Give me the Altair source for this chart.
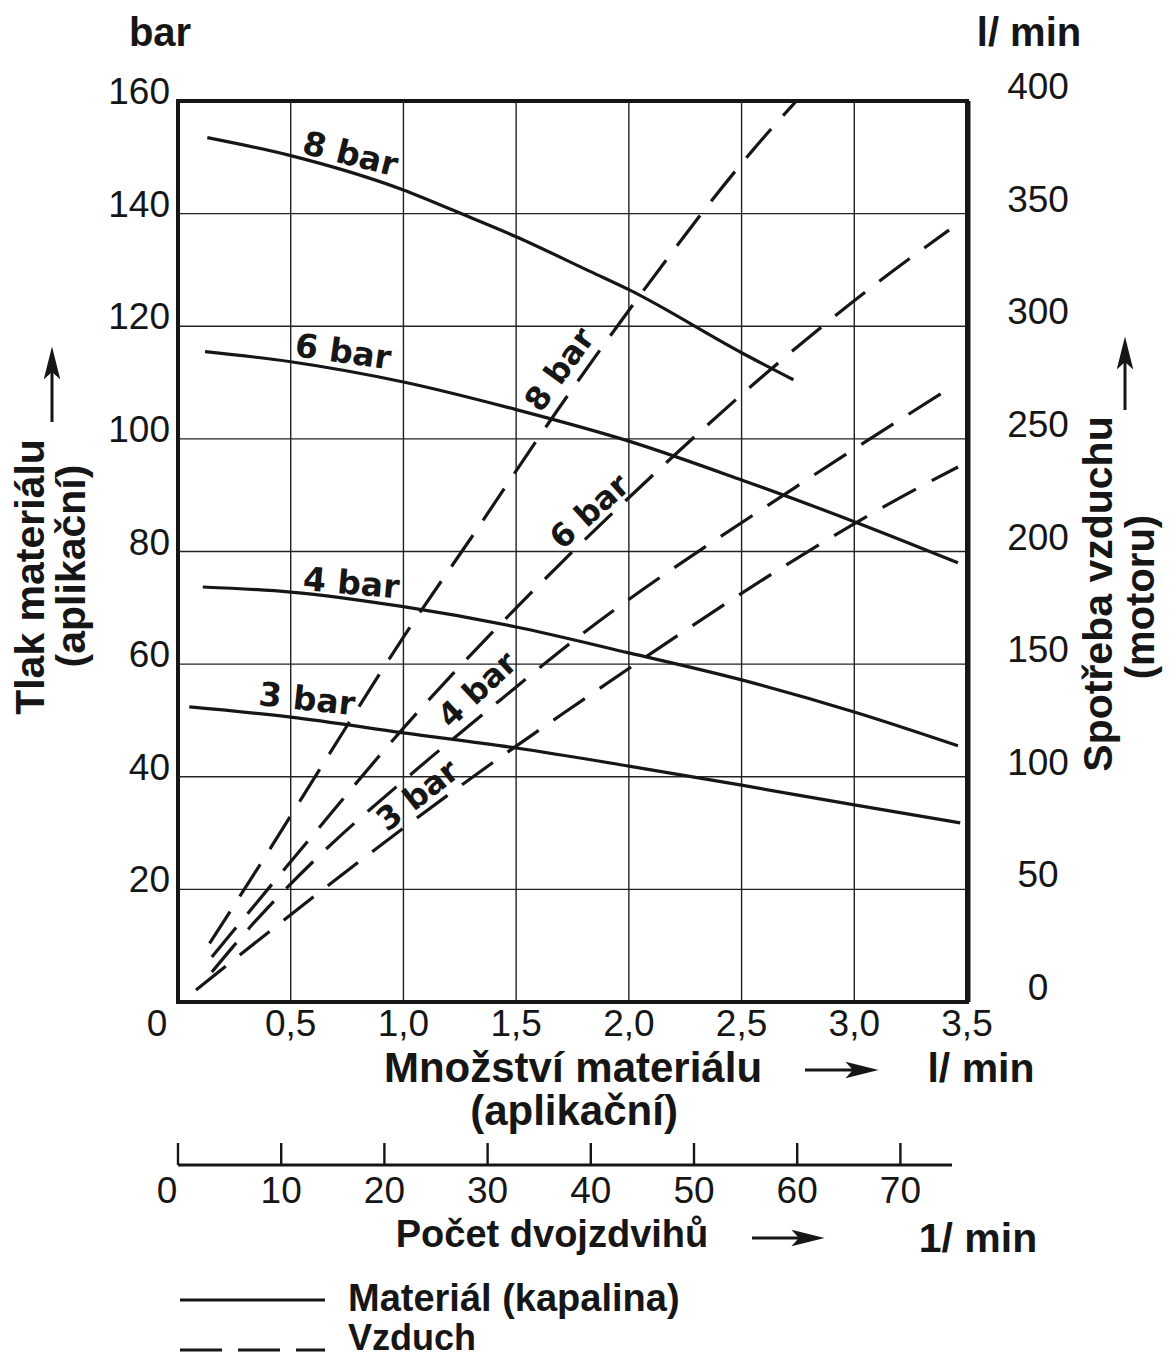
import altair as alt
import pandas as pd

# ---------------- data ----------------
# Material pressure (bar, left axis) vs. material delivery (l/min)
mat_x_8 = [0.13, 0.50, 1.00, 1.25, 1.50, 1.83, 2.00, 2.50, 2.73]
mat_y_8 = [153.5, 150.3, 144.2, 140.1, 135.9, 129.7, 126.5, 115.3, 110.5]
mat_x_6 = [0.12, 0.50, 1.00, 1.50, 2.00, 2.50, 3.00, 3.46]
mat_y_6 = [115.5, 113.7, 110.1, 105.2, 99.6, 92.7, 85.3, 78.0]
mat_x_4 = [0.11, 0.50, 1.00, 1.50, 2.00, 2.50, 3.00, 3.46]
mat_y_4 = [73.7, 72.8, 70.2, 66.6, 62.0, 57.2, 51.5, 45.5]
mat_x_3 = [0.05, 0.50, 1.00, 1.50, 2.00, 2.50, 3.00, 3.47]
mat_y_3 = [52.4, 50.6, 47.8, 45.1, 41.9, 38.5, 35.0, 31.8]

# Air consumption (l/min, right axis) vs. material delivery (l/min)
air_x_8 = [0.14, 0.38, 0.66, 1.00, 1.30, 1.69, 2.06, 2.55, 2.77]
air_y_8 = [26.0, 63.5, 108.3, 162.0, 206.0, 263.7, 315.2, 378.2, 403.0]
air_x_6 = [0.15, 0.61, 0.95, 1.69, 2.14, 2.66, 3.08, 3.42]
air_y_6 = [20.0, 75.5, 115.9, 194.0, 237.0, 283.5, 317.6, 342.7]
air_x_4 = [0.15, 0.32, 0.63, 1.03, 1.43, 1.73, 2.74, 3.40]
air_y_4 = [13.3, 33.3, 65.3, 100.8, 134.1, 158.5, 228.6, 271.0]
air_x_3 = [0.08, 0.64, 1.06, 1.47, 1.70, 3.29, 3.46]
air_y_3 = [5.3, 49.7, 81.7, 111.5, 127.5, 228.6, 237.5]

series_names = ["8 bar", "6 bar", "4 bar", "3 bar"]

# curve labels (anchor in data units, rotation)
mat_lab_x = [0.763, 0.732, 0.768, 0.572]
mat_lab_y = [150.4, 115.3, 74.2, 53.6]
mat_lab_ang = [14, 8, 5, 6]
air_lab_x = [1.695, 1.828, 1.331, 1.065]
air_lab_y = [280.6, 217.5, 138.5, 91.5]
air_lab_ang = [306, 318, 317, 322]

# tick values / labels
x_ticks = [0.5, 1.0, 1.5, 2.0, 2.5, 3.0, 3.5]
x_tick_labels = ["0,5", "1,0", "1,5", "2,0", "2,5", "3,0", "3,5"]
bar_ticks = [20, 40, 60, 80, 100, 120, 140, 160]
air_ticks = [0, 50, 100, 150, 200, 250, 300, 350, 400]
stroke_ticks = [0, 10, 20, 30, 40, 50, 60, 70]
grid_x = [0.5, 1.0, 1.5, 2.0, 2.5, 3.0]
grid_y = [20, 40, 60, 80, 100, 120, 140]

# ---------------- layout ----------------
W, H = 789, 901
INK = "#161616"
NUM_FONT = "Liberation Sans"
TITLE_FONT = "Liberation Sans"
LAB_FONT = "DejaVu Sans"

xs = alt.Scale(domain=[0, 3.5], nice=False, zero=False)
ys_bar = alt.Scale(domain=[0, 160], nice=False, zero=False)
ys_air = alt.Scale(domain=[0, 400], nice=False, zero=False)
ss = alt.Scale(domain=[0, 75], range=[0, 774], nice=False, zero=False)


def frame(xv, yv, name):
    rows = []
    for s, xl, yl in zip(series_names, xv, yv):
        for a, b in zip(xl, yl):
            rows.append({"series": s, "x": a, name: b})
    return pd.DataFrame(rows)


mat_df = frame([mat_x_8, mat_x_6, mat_x_4, mat_x_3],
               [mat_y_8, mat_y_6, mat_y_4, mat_y_3], "bar")
air_df = frame([air_x_8, air_x_6, air_x_4, air_x_3],
               [air_y_8, air_y_6, air_y_4, air_y_3], "air")

one = pd.DataFrame({"k": [0]})

layers = []

# grid
layers.append(alt.Chart(pd.DataFrame({"v": grid_x})).mark_rule(color="#222", strokeWidth=1.4)
              .encode(x=alt.X("v:Q", scale=xs, axis=None)))
layers.append(alt.Chart(pd.DataFrame({"v": grid_y})).mark_rule(color="#222", strokeWidth=1.4)
              .encode(y=alt.Y("v:Q", scale=ys_bar, axis=None)))

# curves
layers.append(alt.Chart(mat_df).mark_line(color=INK, strokeWidth=3.2, interpolate="monotone")
              .encode(x=alt.X("x:Q", scale=xs, axis=None),
                      y=alt.Y("bar:Q", scale=ys_bar, axis=None),
                      detail="series:N"))
layers.append(alt.Chart(air_df).mark_line(color=INK, strokeWidth=3.2, interpolate="monotone",
                                          strokeDash=[38, 18], clip=True)
              .encode(x=alt.X("x:Q", scale=xs, axis=None),
                      y=alt.Y("air:Q", scale=ys_air, axis=None),
                      detail="series:N"))

# curve labels
mat_lab = pd.DataFrame({"t": series_names, "x": mat_lab_x, "y": mat_lab_y, "a": mat_lab_ang})
air_lab = pd.DataFrame({"t": series_names, "x": air_lab_x, "y": air_lab_y, "a": air_lab_ang})
layers.append(alt.Chart(mat_lab).mark_text(font=LAB_FONT, fontWeight="bold", fontSize=33,
                                           color=INK, baseline="middle")
              .encode(x=alt.X("x:Q", scale=xs, axis=None),
                      y=alt.Y("y:Q", scale=ys_bar, axis=None),
                      text="t:N", angle=alt.Angle("a:Q", scale=None)))
layers.append(alt.Chart(air_lab).mark_text(font=LAB_FONT, fontWeight="bold", fontSize=32,
                                           color=INK, baseline="middle")
              .encode(x=alt.X("x:Q", scale=xs, axis=None),
                      y=alt.Y("y:Q", scale=ys_air, axis=None),
                      text="t:N", angle=alt.Angle("a:Q", scale=None)))

# left tick labels (bar)
layers.append(alt.Chart(pd.DataFrame({"v": bar_ticks, "t": [str(v) for v in bar_ticks]}))
              .mark_text(font=NUM_FONT, fontSize=37, color=INK, align="right", baseline="middle", dy=-8)
              .encode(x=alt.value(-8), y=alt.Y("v:Q", scale=ys_bar, axis=None), text="t:N"))
# right tick labels (l/min)
layers.append(alt.Chart(pd.DataFrame({"v": air_ticks, "t": [str(v) for v in air_ticks]}))
              .mark_text(font=NUM_FONT, fontSize=37, color=INK, align="center", baseline="middle", dy=-13)
              .encode(x=alt.value(860), y=alt.Y("v:Q", scale=ys_air, axis=None), text="t:N"))
# x tick labels
layers.append(alt.Chart(pd.DataFrame({"v": x_ticks, "t": x_tick_labels}))
              .mark_text(font=NUM_FONT, fontSize=37, color=INK, align="center", baseline="middle")
              .encode(x=alt.X("v:Q", scale=xs, axis=None), y=alt.value(924), text="t:N"))
layers.append(alt.Chart(pd.DataFrame({"v": [0], "t": ["0"]}))
              .mark_text(font=NUM_FONT, fontSize=37, color=INK, align="center", baseline="middle", dx=-21)
              .encode(x=alt.X("v:Q", scale=xs, axis=None), y=alt.value(924), text="t:N"))

# secondary axis: double strokes per minute
layers.append(alt.Chart(one).mark_rule(color=INK, strokeWidth=3)
              .encode(x=alt.value(0), x2=alt.value(774), y=alt.value(1064)))
layers.append(alt.Chart(pd.DataFrame({"v": stroke_ticks})).mark_rule(color=INK, strokeWidth=2.4)
              .encode(x=alt.X("v:Q", scale=ss, axis=None), y=alt.value(1042), y2=alt.value(1064)))
layers.append(alt.Chart(pd.DataFrame({"v": stroke_ticks[1:], "t": [str(v) for v in stroke_ticks[1:]]}))
              .mark_text(font=NUM_FONT, fontSize=37, color=INK, align="center", baseline="middle")
              .encode(x=alt.X("v:Q", scale=ss, axis=None), y=alt.value(1091), text="t:N"))
layers.append(alt.Chart(pd.DataFrame({"v": [0], "t": ["0"]}))
              .mark_text(font=NUM_FONT, fontSize=37, color=INK, align="center", baseline="middle", dx=-11)
              .encode(x=alt.X("v:Q", scale=ss, axis=None), y=alt.value(1091), text="t:N"))


def label(text, x, y, size=41, angle=0, align="center", weight="bold"):
    kw = dict(font=TITLE_FONT, fontSize=size, fontWeight=weight, color=INK,
              align=align, baseline="middle", text=text)
    if angle:
        kw["angle"] = angle
    return alt.Chart(one).mark_text(**kw).encode(x=alt.value(x), y=alt.value(y))


layers += [
    label("bar", -18, -67, size=40),
    label("l/ min", 851, -67, size=40),
    label("Množství materiálu", 395, 968, size=42),
    label("l/ min", 803, 969),
    label("(aplikační)", 396, 1011, size=42),
    label("Počet dvojzdvihů", 374, 1135, size=38),
    label("1/ min", 800, 1139),
    label("Materiál (kapalina)", 170, 1199, size=38, align="left"),
    label("Vzduch", 170, 1238, size=36, align="left"),
    label("Tlak materiálu", -146, 476, angle=270),
    label("(aplikační)", -105, 465, angle=270),
    label("Spotřeba vzduchu", 922, 493, angle=270),
    label("(motoru)", 964, 496, size=40, angle=270),
]

# arrows
ARROW = "M -1 -0.5 L 1 0 L -1 0.5 L -0.55 0 Z"


def hline(x1, x2, y, dash=None, w=3):
    kw = dict(color=INK, strokeWidth=w)
    if dash:
        kw["strokeDash"] = dash
    return alt.Chart(one).mark_rule(**kw).encode(x=alt.value(x1), x2=alt.value(x2), y=alt.value(y))


def vline(x, y1, y2, w=3):
    return alt.Chart(one).mark_rule(color=INK, strokeWidth=w).encode(
        x=alt.value(x), y=alt.value(y1), y2=alt.value(y2))


def head(x, y, angle=0):
    kw = dict(shape=ARROW, filled=True, color=INK, size=1100, opacity=1, strokeWidth=0)
    if angle:
        kw["angle"] = angle
    return alt.Chart(one).mark_point(**kw).encode(x=alt.value(x), y=alt.value(y))


layers += [
    hline(627, 680, 969), head(684, 969),
    hline(574, 626, 1137), head(630, 1137),
    vline(-126, 321, 262), head(-126, 262, angle=270),
    vline(947, 309, 250), head(947, 252, angle=270),
    # legend samples
    hline(2, 147, 1199),
    hline(2, 147, 1249, dash=[42, 16]),
    # heavier right edge of the frame
    vline(W + 1, 0, H, w=5),
]

chart = (
    alt.layer(*layers)
    .resolve_scale(x="independent", y="independent")
    .properties(width=W, height=H,
                padding={"left": 170, "top": 93, "right": 196, "bottom": 356},
                autosize=alt.AutoSizeParams(type="none"),
                background="white")
    .configure_view(stroke=INK, strokeWidth=4)
)

chart.save("out.html", embed_options={"renderer": "svg", "actions": False})
